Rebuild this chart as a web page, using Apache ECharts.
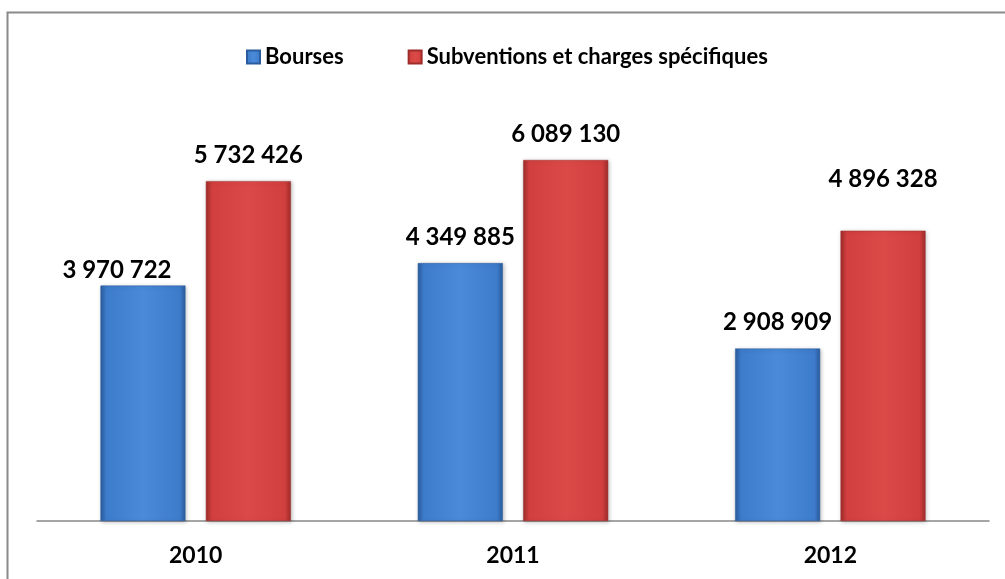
<!DOCTYPE html>
<html>
<head>
<meta charset="utf-8">
<script src="https://cdn.jsdelivr.net/npm/echarts@6/dist/echarts.min.js"></script>
<style>
html,body{margin:0;padding:0;background:#fff;}
#chart{width:1005px;height:579px;}
</style>
</head>
<body>
<div id="chart"></div>
<script>
const categories = ['2010', '2011', '2012'];
const seriesNames = ['Bourses', 'Subventions et charges spécifiques'];
const bourses = [3970722, 4349885, 2908909];
const subventions = [5732426, 6089130, 4896328];

// manual label nudges (pixels), as placed in the original chart
const boursesLabelOffsets = [[-26, 11], [0, 0], [0, 0]];
const subventionsLabelOffsets = [[0, 0], [0, 0], [0, -25]];

function fmt(v) {
  return String(v).replace(/\B(?=(\d{3})+(?!\d))/g, ' ');
}

const FONT = 'Lato';

function barStyle(light, base, dark) {
  return {
    color: new echarts.graphic.LinearGradient(0, 0, 1, 0, [
      { offset: 0, color: dark },
      { offset: 0.07, color: base },
      { offset: 0.5, color: light },
      { offset: 0.93, color: base },
      { offset: 1, color: dark }
    ]),
    borderColor: dark,
    borderWidth: 0.5,
    shadowColor: 'rgba(0,0,0,0.25)',
    shadowBlur: 4,
    shadowOffsetX: 1,
    shadowOffsetY: 1
  };
}

const labelStyle = {
  show: true,
  position: 'top',
  distance: 14,
  formatter: p => fmt(p.value),
  fontFamily: FONT,
  fontWeight: 'bold',
  fontSize: 24,
  color: '#000'
};

function withOffsets(values, offsets) {
  return values.map((v, i) => ({ value: v, label: { offset: offsets[i] } }));
}

const chart = echarts.init(document.getElementById('chart'), null, { renderer: 'canvas' });
chart.setOption({
  animation: false,
  backgroundColor: '#fff',
  graphic: [{
    type: 'rect',
    shape: { x: 7.5, y: 12.5, width: 1100, height: 700 },
    style: { fill: 'none', stroke: '#8a8a8a', lineWidth: 2 },
    silent: true
  }],
  legend: {
    top: 41,
    left: 241,
    itemWidth: 13,
    itemHeight: 13,
    itemGap: 64,
    icon: 'rect',
    textStyle: { fontFamily: FONT, fontWeight: 'bold', fontSize: 22, color: '#000' },
    data: seriesNames
  },
  grid: { left: 37, right: 16, top: 106, bottom: 58 },
  xAxis: {
    type: 'category',
    data: categories,
    axisLine: { lineStyle: { color: '#888', width: 1.5 } },
    axisTick: { show: false },
    axisLabel: { fontFamily: FONT, fontWeight: 'bold', fontSize: 23, color: '#000', margin: 23 }
  },
  yAxis: {
    type: 'value',
    min: 0,
    max: 7000000,
    show: false,
    splitLine: { show: false }
  },
  series: [{
    name: seriesNames[0],
    type: 'bar',
    data: withOffsets(bourses, boursesLabelOffsets),
    barWidth: 85,
    barGap: '24%',
    itemStyle: barStyle('#4a8ad8', '#3d7ccb', '#2a5c9e'),
    label: labelStyle
  }, {
    name: seriesNames[1],
    type: 'bar',
    data: withOffsets(subventions, subventionsLabelOffsets),
    barWidth: 85,
    itemStyle: barStyle('#dc4a48', '#d13f3e', '#9e2c2b'),
    label: labelStyle
  }]
});
</script>
</body>
</html>
